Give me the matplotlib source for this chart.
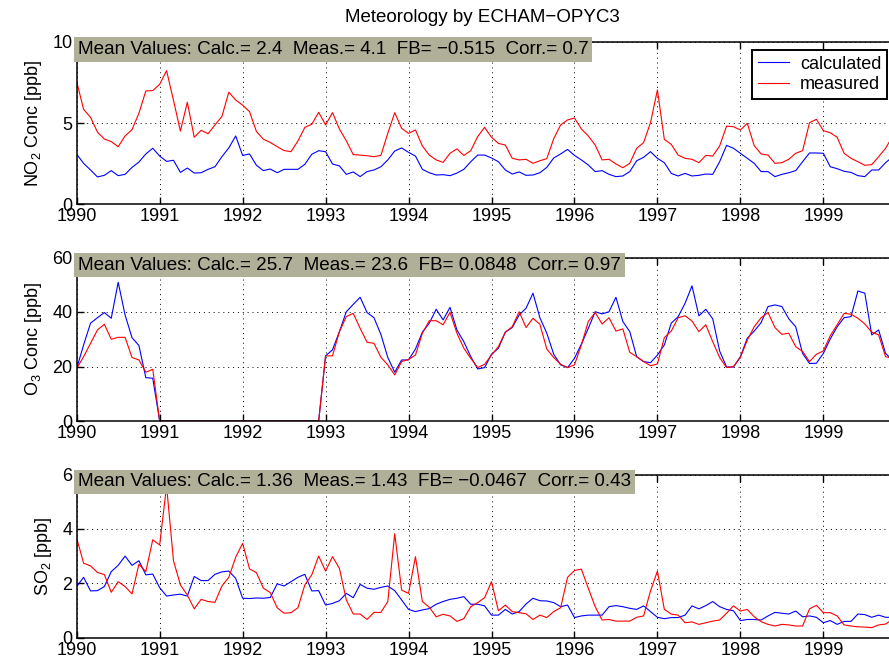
import numpy as np
import matplotlib
matplotlib.use("Agg")
import matplotlib.pyplot as plt

plt.rcParams['font.family'] = ['Liberation Sans', 'DejaVu Sans']
plt.rcParams['mathtext.default'] = 'regular'

# monthly values, Jan 1990 .. Dec 1999
start_year = 1990
n_months = 120

no2_calc = [3.07, 2.51, 2.1, 1.67, 1.77, 2.06, 1.75, 1.83, 2.26, 2.59, 3.09, 3.44,
            2.96, 2.63, 2.7, 1.95, 2.22, 1.91, 1.93, 2.14, 2.3, 2.92, 3.46, 4.2,
            3.0, 3.09, 2.39, 2.06, 2.16, 1.93, 2.14, 2.14, 2.14, 2.45, 3.07, 3.29,
            3.23, 2.47, 2.35, 1.83, 1.98, 1.69, 2.0, 2.1, 2.3, 2.72, 3.27, 3.46,
            3.19, 2.96, 2.14, 1.93, 1.79, 1.81, 1.75, 1.91, 2.14, 2.61, 3.02, 3.02,
            2.84, 2.61, 2.1, 1.85, 1.98, 1.77, 1.79, 1.93, 2.26, 2.84, 3.09, 3.37,
            3.0, 2.72, 2.41, 2.0, 2.06, 1.83, 1.69, 1.73, 2.0, 2.67, 2.88, 3.23,
            2.82, 2.55, 1.89, 1.73, 1.89, 1.73, 1.77, 1.85, 1.83, 2.61, 3.62, 3.44,
            3.13, 2.82, 2.51, 2.0, 2.0, 1.69, 1.83, 1.93, 2.06, 2.61, 3.15, 3.15,
            3.13, 2.3, 2.18, 2.02, 1.95, 1.75, 1.69, 2.1, 2.1, 2.55, 2.9, 3.1]
no2_meas = [7.55, 5.84, 5.35, 4.44, 4.01, 3.85, 3.54, 4.2, 4.59, 5.6, 6.98, 7.0,
            7.39, 8.23, 6.4, 4.5, 6.28, 4.12, 4.55, 4.34, 4.88, 5.4, 6.9, 6.42,
            6.1, 5.7, 4.47, 4.0, 3.8, 3.54, 3.3, 3.23, 3.89, 4.73, 4.92, 5.66,
            4.88, 5.64, 4.63, 3.9, 3.05, 3.02, 2.98, 2.92, 3.0, 4.36, 5.64, 4.67,
            4.36, 4.57, 3.58, 3.02, 2.72, 2.57, 3.13, 3.4, 3.0, 3.29, 4.16, 4.73,
            4.12, 3.74, 3.64, 2.82, 2.72, 2.76, 2.51, 2.67, 2.8, 4.03, 4.88, 5.19,
            5.31, 4.63, 4.2, 3.64, 2.72, 2.76, 2.47, 2.24, 2.51, 3.44, 3.79, 5.02,
            7.04, 3.99, 3.68, 3.02, 2.82, 2.76, 2.55, 3.0, 2.96, 3.58, 4.81, 4.77,
            4.57, 4.98, 3.6, 3.09, 3.02, 2.51, 2.55, 2.76, 3.13, 3.29, 5.02, 5.23,
            4.53, 4.4, 4.12, 3.13, 2.82, 2.61, 2.39, 2.43, 2.92, 3.44, 4.16, 4.8]

o3_calc = [19.3, 27.9, 35.9, 37.9, 39.8, 37.7, 50.9, 38.9, 30.6, 27.7, 15.9, 15.7,
           0, 0, 0, 0, 0, 0, 0, 0, 0, 0, 0, 0,
           0, 0, 0, 0, 0, 0, 0, 0, 0, 0, 0, 0,
           23.9, 26.1, 32.8, 40.1, 42.8, 45.4, 39.8, 37.9, 31.8, 23.3, 17.9, 22.4,
           22.4, 26.4, 32.6, 35.9, 41.0, 37.1, 41.7, 33.4, 29.1, 23.6, 19.1, 19.6,
           24.5, 26.7, 32.6, 34.3, 38.9, 41.4, 46.9, 37.9, 32.2, 24.5, 20.6, 19.6,
           23.0, 28.2, 34.0, 40.1, 39.3, 40.1, 45.4, 36.5, 32.8, 23.6, 21.8, 21.4,
           24.2, 27.9, 35.9, 38.3, 43.2, 49.6, 38.6, 41.0, 37.5, 25.7, 19.8, 19.8,
           23.6, 30.4, 33.0, 36.1, 42.0, 42.6, 42.0, 37.5, 34.6, 24.8, 21.1, 21.2,
           24.8, 30.1, 34.6, 37.9, 38.3, 47.7, 46.9, 31.6, 33.4, 24.8, 22.4, 22.0]
o3_meas = [19.3, 23.6, 28.5, 33.4, 35.5, 30.0, 30.7, 30.7, 23.3, 22.4, 17.9, 19.0,
           0, 0, 0, 0, 0, 0, 0, 0, 0, 0, 0, 0,
           0, 0, 0, 0, 0, 0, 0, 0, 0, 0, 0, 0,
           23.9, 23.9, 32.8, 38.3, 39.5, 34.0, 28.9, 28.5, 23.4, 20.6, 16.9, 21.8,
           22.6, 24.2, 32.2, 36.8, 36.8, 35.3, 39.9, 32.2, 26.7, 23.0, 19.6, 20.8,
           24.2, 27.3, 32.6, 34.6, 40.1, 34.3, 37.7, 35.5, 26.4, 23.3, 20.8, 19.6,
           20.6, 27.9, 36.5, 39.8, 35.6, 37.9, 33.0, 33.8, 25.2, 23.6, 21.8, 20.3,
           20.9, 30.6, 33.0, 37.9, 38.6, 36.7, 32.8, 35.3, 29.1, 23.3, 19.6, 20.0,
           23.3, 29.7, 34.6, 37.9, 39.8, 34.3, 31.8, 32.2, 27.3, 25.5, 21.8, 24.5,
           25.7, 31.3, 35.3, 39.5, 39.2, 37.7, 35.6, 32.6, 31.6, 23.6, 23.0, 24.0]

so2_calc = [1.88, 2.22, 1.72, 1.73, 1.88, 2.43, 2.66, 3.0, 2.66, 2.83, 2.31, 2.34,
            1.84, 1.53, 1.57, 1.6, 1.53, 2.25, 2.1, 2.1, 2.33, 2.42, 2.45, 2.18,
            1.45, 1.44, 1.46, 1.45, 1.48, 1.98, 1.9, 2.06, 2.22, 2.33, 1.72, 1.73,
            1.2, 1.26, 1.36, 1.63, 1.47, 1.96, 1.82, 1.78, 1.85, 1.9, 1.73, 1.39,
            1.04, 0.96, 1.02, 1.07, 1.23, 1.33, 1.41, 1.45, 1.51, 1.23, 1.23, 1.17,
            0.83, 0.83, 1.04, 0.87, 0.96, 1.24, 1.45, 1.36, 1.35, 1.29, 1.14, 1.2,
            0.74, 0.8, 0.83, 0.83, 0.83, 1.14, 1.18, 1.14, 1.08, 1.04, 1.17, 0.96,
            0.75, 0.7, 0.74, 0.74, 0.83, 1.17, 1.06, 1.18, 1.33, 1.14, 1.04, 0.99,
            0.63, 0.67, 0.67, 0.65, 0.8, 0.93, 0.9, 0.87, 0.98, 0.77, 0.8, 0.75,
            0.55, 0.63, 0.49, 0.6, 0.6, 0.87, 0.85, 0.75, 0.83, 0.75, 0.75, 0.75]
so2_meas = [3.66, 2.74, 2.64, 2.4, 2.32, 1.67, 2.06, 1.88, 1.61, 2.7, 2.43, 3.6,
            3.41, 5.58, 2.83, 1.94, 1.57, 1.06, 1.41, 1.33, 1.3, 1.9, 2.22, 2.96,
            3.47, 2.53, 2.39, 1.82, 1.66, 1.1, 0.9, 0.92, 1.1, 1.94, 2.31, 3.0,
            2.45, 2.98, 2.55, 1.39, 0.87, 0.87, 0.67, 0.93, 0.93, 1.33, 3.82, 1.75,
            1.63, 2.98, 1.33, 1.12, 0.77, 0.86, 0.8, 0.6, 0.7, 1.14, 1.29, 1.47,
            2.06, 0.99, 1.2, 0.96, 0.92, 0.88, 0.67, 0.83, 0.74, 0.96, 1.1, 2.22,
            2.47, 2.52, 1.82, 1.14, 0.65, 0.67, 0.61, 0.61, 0.61, 0.75, 0.8, 1.72,
            2.45, 1.04, 0.87, 0.83, 0.55, 0.58, 0.49, 0.55, 0.61, 0.65, 0.9, 1.17,
            0.98, 1.04, 0.77, 0.59, 0.49, 0.43, 0.49, 0.47, 0.43, 0.43, 1.06, 1.19,
            0.92, 0.92, 0.8, 0.47, 0.43, 0.4, 0.39, 0.37, 0.47, 0.5, 0.67, 0.8]

ylabels = ['NO$_2$ Conc [ppb]', 'O$_3$ Conc [ppb]', 'SO$_2$ [ppb]']
yticks = [[0, 5, 10], [0, 20, 40, 60], [0, 2, 4, 6]]
stats = ['Mean Values: Calc.= 2.4  Meas.= 4.1  FB= \u22120.515  Corr.= 0.7',
         'Mean Values: Calc.= 25.7  Meas.= 23.6  FB= 0.0848  Corr.= 0.97',
         'Mean Values: Calc.= 1.36  Meas.= 1.43  FB= \u22120.0467  Corr.= 0.43']
title = 'Meteorology by ECHAM\u2212OPYC3'
xyears = list(range(1990, 2000))

t = start_year + np.arange(n_months) / 12.0
calc = [no2_calc, o3_calc, so2_calc]
meas = [no2_meas, o3_meas, so2_meas]

W, H = 889, 664
fig = plt.figure(figsize=(W / 100, H / 100), dpi=100)

# axes boxes in pixels: (top, bottom); right edge runs past the image (year 2000)
left_px = 76.7
right_px = left_px + 10 * 82.96
boxes = [(42, 204), (257.5, 421), (474.5, 637.7)]

for i, (top, bot) in enumerate(boxes):
    ax = fig.add_axes([left_px / W, 1 - bot / H, (right_px - left_px) / W, (bot - top) / H])
    ax.plot(t, calc[i], color='b', lw=0.8, label='calculated')
    ax.plot(t, meas[i], color='r', lw=0.8, label='measured')
    ax.set_xlim(1990, 2000)
    ax.set_ylim(yticks[i][0], yticks[i][-1])
    ax.set_xticks(xyears)
    ax.set_yticks(yticks[i])
    ax.set_xticklabels([str(y) for y in xyears])
    ax.tick_params(direction='in', length=5, width=1, top=True, right=True,
                   labelsize=13, pad=3)
    ax.grid(True, color='k', linestyle=(0, (1, 4)), linewidth=0.7)
    for s in ax.spines.values():
        s.set_linewidth(1.1)
    ax.set_ylabel(ylabels[i], fontsize=13, labelpad=6)
    ax.annotate(stats[i], xy=(0, 1), xycoords='axes fraction',
                xytext=(1, -7.5), textcoords='offset pixels',
                ha='left', va='center', fontsize=13.6, zorder=10,
                bbox=dict(boxstyle='square,pad=0.21', fc='#b0b099', ec='none'),
                annotation_clip=False)
    if i == 0:
        leg = ax.legend(loc='upper right', bbox_to_anchor=(0.9767, 0.95),
                        borderaxespad=0, fontsize=13, fancybox=False,
                        framealpha=1, edgecolor='k', handlelength=1.75,
                        borderpad=0.3, labelspacing=0.2, handletextpad=0.6)
        leg.get_frame().set_linewidth(1.4)

fig.text(482 / W, 1 - 18 / H, title, ha='center', va='center', fontsize=13.5)

fig.savefig('out.png', dpi=100)
